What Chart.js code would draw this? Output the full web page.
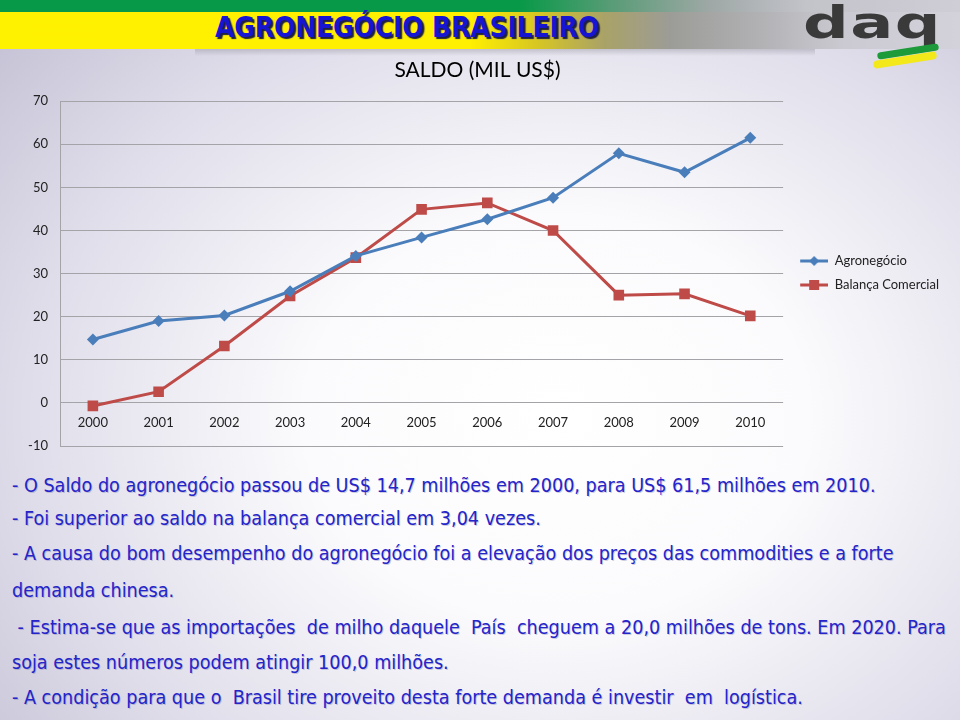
<!DOCTYPE html>
<html lang="pt">
<head>
  <meta charset="UTF-8">
  <title>Agronegócio Brasileiro - Saldo</title>
  <script src="https://cdn.jsdelivr.net/npm/chart.js"></script>
  <style>
    html, body { margin: 0; padding: 0; }
    body {
      width: 960px; height: 720px; position: relative; overflow: hidden;
      background: radial-gradient(ellipse 75% 80% at 58% 58%, #ffffff 0%, #fbfbfd 35%, #dedce9 75%, #c7c4d7 100%);
      font-family: "DejaVu Sans Condensed", sans-serif;
    }
    .green-strip {
      position: absolute; left: 0; top: 0; width: 960px; height: 12px;
      background: linear-gradient(to right, #079947 0%, #079947 54%, #5b9c78 64%, #9fa8a6 74%, #c3c3ca 84%, #cfcdd6 100%);
    }
    .yellow-bar {
      position: absolute; left: 0; top: 12px; width: 960px; height: 37px;
      background: linear-gradient(to right, #fff200 0%, #ffef00 49%, #d7c623 56%, #a9a268 63%, #9c9c98 70%, #b1b1b4 79%, #cbcad2 88%, #d3d1da 100%);
    }
    .bar-shadow {
      position: absolute; left: 195px; top: 49px; width: 620px; height: 7px;
      background: linear-gradient(to bottom, rgba(130,130,140,0.35), rgba(160,160,170,0));
    }
    .main-title {
      position: absolute; left: 215px; top: 11px;
      font: bold 28px "DejaVu Sans Condensed", sans-serif;
      color: #1616d2; letter-spacing: -0.2px;
      text-shadow: 2px 2px 1px #202040;
    }
    .logo {
      position: absolute; left: 803px; top: -4px;
      font: bold 45px "DejaVu Sans", sans-serif; color: #3a3a3a; letter-spacing: 1px;
      transform: scaleX(1.42); transform-origin: left top;
    }
    .swoosh-g {
      position: absolute; left: 877px; top: 48px; width: 62px; height: 7px;
      background: #1d9a3a; border-radius: 4px; transform: rotate(-9deg);
    }
    .swoosh-y {
      position: absolute; left: 873px; top: 56px; width: 64px; height: 8px;
      background: #f3e81a; border-radius: 4px; transform: rotate(-9deg);
    }
    #chartBox { position: absolute; left: 0; top: 50px; width: 960px; height: 410px; }
    .txt {
      position: absolute; left: 12px; font-size: 19.6px; line-height: 24px;
      color: #2424c8; white-space: pre; text-shadow: 1px 1px 0 rgba(90,90,160,0.3);
    }
  </style>
</head>
<body>
  <div class="green-strip"></div>
  <div class="yellow-bar"></div>
  <div class="bar-shadow"></div>
  <div class="main-title">AGRONEGÓCIO BRASILEIRO</div>
  <div class="logo">daq</div>
  <div class="swoosh-g"></div>
  <div class="swoosh-y"></div>

  <div id="chartBox"><canvas id="saldoChart"></canvas></div>

  <div class="txt" style="top:474px">- O Saldo do agronegócio passou de US$ 14,7 milhões em 2000, para US$ 61,5 milhões em 2010.</div>
  <div class="txt" style="top:507px">- Foi superior ao saldo na balança comercial em 3,04 vezes.</div>
  <div class="txt" style="top:542px">- A causa do bom desempenho do agronegócio foi a elevação dos preços das commodities e a forte</div>
  <div class="txt" style="top:579px">demanda chinesa.</div>
  <div class="txt" style="top:616px"> - Estima-se que as importações  de milho daquele  País  cheguem a 20,0 milhões de tons. Em 2020. Para</div>
  <div class="txt" style="top:651px">soja estes números podem atingir 100,0 milhões.</div>
  <div class="txt" style="top:686px">- A condição para que o  Brasil tire proveito desta forte demanda é investir  em  logística.</div>

  <script>
    // data
    const years = ['2000', '2001', '2002', '2003', '2004', '2005', '2006', '2007', '2008', '2009', '2010'];
    const agronegocio = [14.7, 19.0, 20.3, 25.9, 34.1, 38.4, 42.6, 47.6, 57.9, 53.5, 61.5];
    const balancaComercial = [-0.7, 2.6, 13.2, 24.8, 33.7, 44.9, 46.4, 40.0, 25.0, 25.3, 20.2];
    const seriesNames = ['Agronegócio', 'Balança Comercial'];
    const yMin = -10, yMax = 70, yStep = 10;

    const BLUE = '#4a7ebb';
    const RED = '#be4b48';

    // legend icon: line with marker, like the office chart legend
    const legendIcon = (color, shape) => {
      const c = document.createElement('canvas');
      c.width = 34; c.height = 14;
      const ctx = c.getContext('2d');
      ctx.strokeStyle = color; ctx.fillStyle = color; ctx.lineWidth = 3;
      ctx.beginPath(); ctx.moveTo(6, 7); ctx.lineTo(34, 7); ctx.stroke();
      ctx.beginPath();
      if (shape === 'diamond') {
        ctx.moveTo(20, 2); ctx.lineTo(25, 7); ctx.lineTo(20, 12); ctx.lineTo(15, 7);
      } else {
        ctx.rect(15, 2, 10, 10);
      }
      ctx.closePath(); ctx.fill();
      return c;
    };
    const icons = [legendIcon(BLUE, 'diamond'), legendIcon(RED, 'square')];

    Chart.defaults.font.family = 'Lato, "Liberation Sans", sans-serif';
    Chart.defaults.color = '#222';

    new Chart(document.getElementById('saldoChart'), {
      type: 'line',
      data: {
        labels: years,
        datasets: [
          {
            label: seriesNames[0], data: agronegocio,
            borderColor: BLUE, backgroundColor: BLUE, borderWidth: 3,
            pointStyle: 'rectRot', pointRadius: 6, pointBorderWidth: 0,
            tension: 0, fill: false
          },
          {
            label: seriesNames[1], data: balancaComercial,
            borderColor: RED, backgroundColor: RED, borderWidth: 3,
            pointStyle: 'rect', pointRadius: 7.5, pointBorderWidth: 0,
            tension: 0, fill: false
          }
        ]
      },
      options: {
        responsive: true,
        maintainAspectRatio: false,
        animation: false,
        events: [],
        layout: { padding: { left: 6, right: 11, top: 0, bottom: 14 } },
        plugins: {
          title: {
            display: true,
            text: 'SALDO (MIL US$)',
            color: '#000',
            font: { size: 21, weight: 'normal' },
            padding: { top: 8, bottom: 18 }
          },
          legend: {
            position: 'right',
            // empty title only pushes the entries down to the slide's spot
            title: { display: true, text: ' ', font: { size: 10 }, padding: { top: 38, bottom: 0 } },
            labels: {
              usePointStyle: true,
              pointStyleWidth: 34,
              padding: 11,
              font: { size: 13 },
              color: '#222',
              generateLabels: chart => {
                const items = Chart.defaults.plugins.legend.labels.generateLabels(chart);
                items.forEach((it, i) => { it.pointStyle = icons[i]; });
                return items;
              }
            }
          },
          tooltip: { enabled: false }
        },
        scales: {
          x: {
            position: { y: 0 },
            offset: true,
            grid: { display: false, drawTicks: false },
            border: { display: false },
            ticks: { padding: 12, font: { size: 13 }, color: '#222' }
          },
          y: {
            min: yMin, max: yMax,
            ticks: { stepSize: yStep, padding: 0, font: { size: 13 }, color: '#222' },
            grid: { color: '#a4a4a8', lineWidth: 1, drawTicks: true, tickLength: 12, tickColor: 'rgba(0,0,0,0)' },
            border: { display: true, color: '#a4a4a8' },
            afterFit: scale => { scale.width = 54; }
          }
        }
      }
    });
  </script>
</body>
</html>
